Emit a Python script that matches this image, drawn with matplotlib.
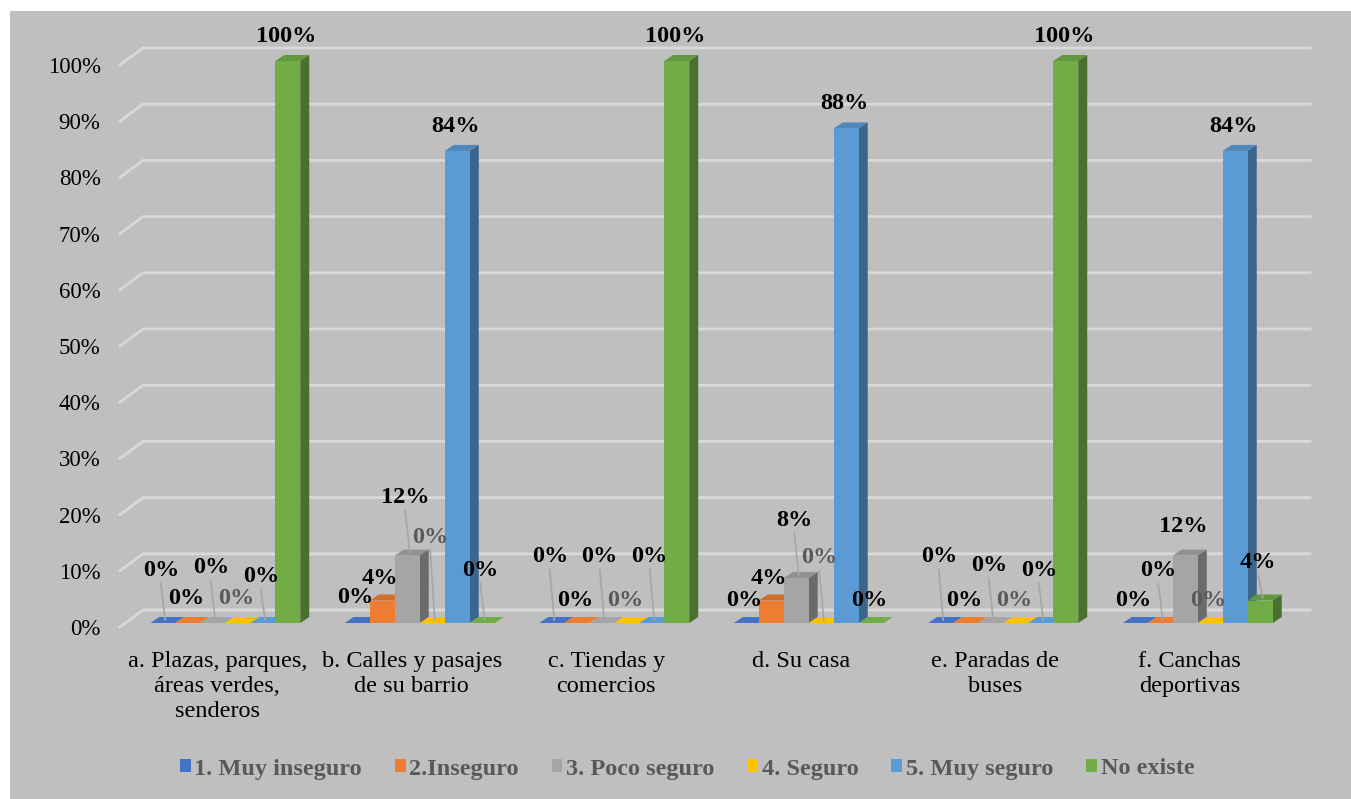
import numpy as np
import matplotlib
matplotlib.use("Agg")
import matplotlib.pyplot as plt
from matplotlib.patches import Polygon, Patch, Rectangle
from matplotlib.colors import to_rgb

plt.rcParams['font.family'] = ['Liberation Serif', 'DejaVu Serif']

# data
categories = ["a. Plazas, parques,\náreas verdes,\nsenderos",
              "b. Calles y pasajes\nde su barrio",
              "c. Tiendas y\ncomercios",
              "d. Su casa",
              "e. Paradas de\nbuses",
              "f. Canchas\ndeportivas"]
series_names = ["1. Muy inseguro", "2.Inseguro", "3. Poco seguro",
                "4. Seguro", "5. Muy seguro", "No existe"]
muy_inseguro = [0, 0, 0, 0, 0, 0]
inseguro = [0, 4, 0, 4, 0, 0]
poco_seguro = [0, 12, 0, 8, 0, 12]
seguro = [0, 0, 0, 0, 0, 0]
muy_seguro = [0, 84, 0, 88, 0, 84]
no_existe = [100, 0, 100, 0, 100, 4]
series_values = [muy_inseguro, inseguro, poco_seguro, seguro, muy_seguro, no_existe]
colors = ["#4472C4", "#ED7D31", "#A5A5A5", "#FFC000", "#5B9BD5", "#70AD47"]
yticks = list(range(0, 101, 10))

# where the data labels sit (value-axis units)
label_y = [
    [10.1, 5.2, 12.5, 4.8, 12.5, 4.8],
    [5.0, 8.7, 4.8, 8.7, 4.8, 10.0],
    [10.5, 23.0, 12.5, 19.0, 11.0, 17.8],
    [5.0, 16.0, 4.8, 12.3, 4.8, 4.8],
    [8.9, 89.0, 12.5, 93.2, 10.1, 89.0],
    [105.0, 10.1, 105.0, 4.8, 105.0, 11.4],
]
label_colors = ["black", "black", "black", "#595959", "black", "black"]

# figure geometry (pixels)
W_PX, H_PX = 1351, 799
left_px, right_px, top_px, bottom_px = 120, 1287, 65, 627
sx = (right_px - left_px) / 6.0      # px per category
sy = (bottom_px - top_px) / 100.0    # px per percent

FDX, FDY = 23 / sx, 17 / sy          # depth of the floor / walls
BOX, BOY = 8 / sx, 4 / sy            # bars sit a bit behind the front plane
BDX, BDY = 9 / sx, 6 / sy            # depth of the bars
BW = 25 / sx                         # bar width

fig = plt.figure(figsize=(W_PX / 100, H_PX / 100), dpi=100, facecolor="white")
bg = Rectangle((10 / W_PX, 0), 1, 1 - 11 / H_PX, transform=fig.transFigure,
               facecolor="#bfbfbf", edgecolor="none", zorder=-10)
fig.patches.append(bg)

ax = fig.add_axes([left_px / W_PX, 1 - bottom_px / H_PX,
                   (right_px - left_px) / W_PX, (bottom_px - top_px) / H_PX])
ax.patch.set_visible(False)
for s in ax.spines.values():
    s.set_visible(False)
ax.set_xlim(-0.5, 5.5)
ax.set_ylim(0, 100)

# back wall gridlines with the 3d left wall
x_end = (1310 - left_px) / sx - 0.5
for v in yticks:
    ax.plot([-0.5, -0.5 + FDX, x_end], [v, v + FDY, v + FDY],
            color="#d9d9d9", lw=2, zorder=1, clip_on=False, solid_joinstyle="miter")

x = np.arange(len(categories))
for k, (vals, col) in enumerate(zip(series_values, colors)):
    base = np.array(to_rgb(col))
    top_col = base * 0.88
    side_col = base * 0.65
    xc = x + (k - 2.5) * BW + BOX
    z = 2 + k
    ax.bar(xc, vals, width=BW, bottom=BOY, color=col, zorder=z + 0.2, clip_on=False)
    for i, v in enumerate(vals):
        x0 = xc[i] - BW / 2
        t = v + BOY
        ax.add_patch(Polygon([(x0, t), (x0 + BW, t), (x0 + BW + BDX, t + BDY), (x0 + BDX, t + BDY)],
                             closed=True, facecolor=top_col if v > 0 else col,
                             edgecolor="none", zorder=z, clip_on=False))
        if v > 0:
            ax.add_patch(Polygon([(x0 + BW, BOY), (x0 + BW + BDX, BOY + BDY),
                                  (x0 + BW + BDX, t + BDY), (x0 + BW, t)],
                                 closed=True, facecolor=side_col, edgecolor="none",
                                 zorder=z, clip_on=False))
        # data label
        lx = xc[i] - 2 / sx
        ly = label_y[k][i]
        ax.text(lx, ly, f"{v}%", ha="center", va="center", fontsize=17.5,
                fontweight="bold", color=label_colors[k], zorder=20, clip_on=False)
        btop = t + BDY / 2
        if (ly - 2.3) - btop > 2.8:
            ax.plot([lx, xc[i] + BDX / 2 - 2 / sx], [ly - 2.3, btop], color="#a6a6a6",
                    lw=1.2, zorder=19, clip_on=False)

ax.set_yticks(yticks)
ax.set_yticklabels([f"{v}%" for v in yticks], fontsize=16.5)
ax.set_xticks(x)
ax.set_xticklabels(categories, fontsize=17.5, linespacing=1.25)
ax.tick_params(axis="y", length=0, pad=14)
ax.tick_params(axis="x", length=0, pad=17)

handles = [Patch(facecolor=c, edgecolor="none") for c in colors]
leg = fig.legend(handles, series_names, loc="center", ncol=6,
                 bbox_to_anchor=(687 / W_PX, 1 - 769 / H_PX), frameon=False,
                 prop={"size": 17.5, "weight": "bold"}, handlelength=0.45, handleheight=0.45,
                 handletextpad=0.15, columnspacing=1.35)
for txt in leg.get_texts():
    txt.set_color("#595959")

fig.savefig("out.png", dpi=100, facecolor="white")
